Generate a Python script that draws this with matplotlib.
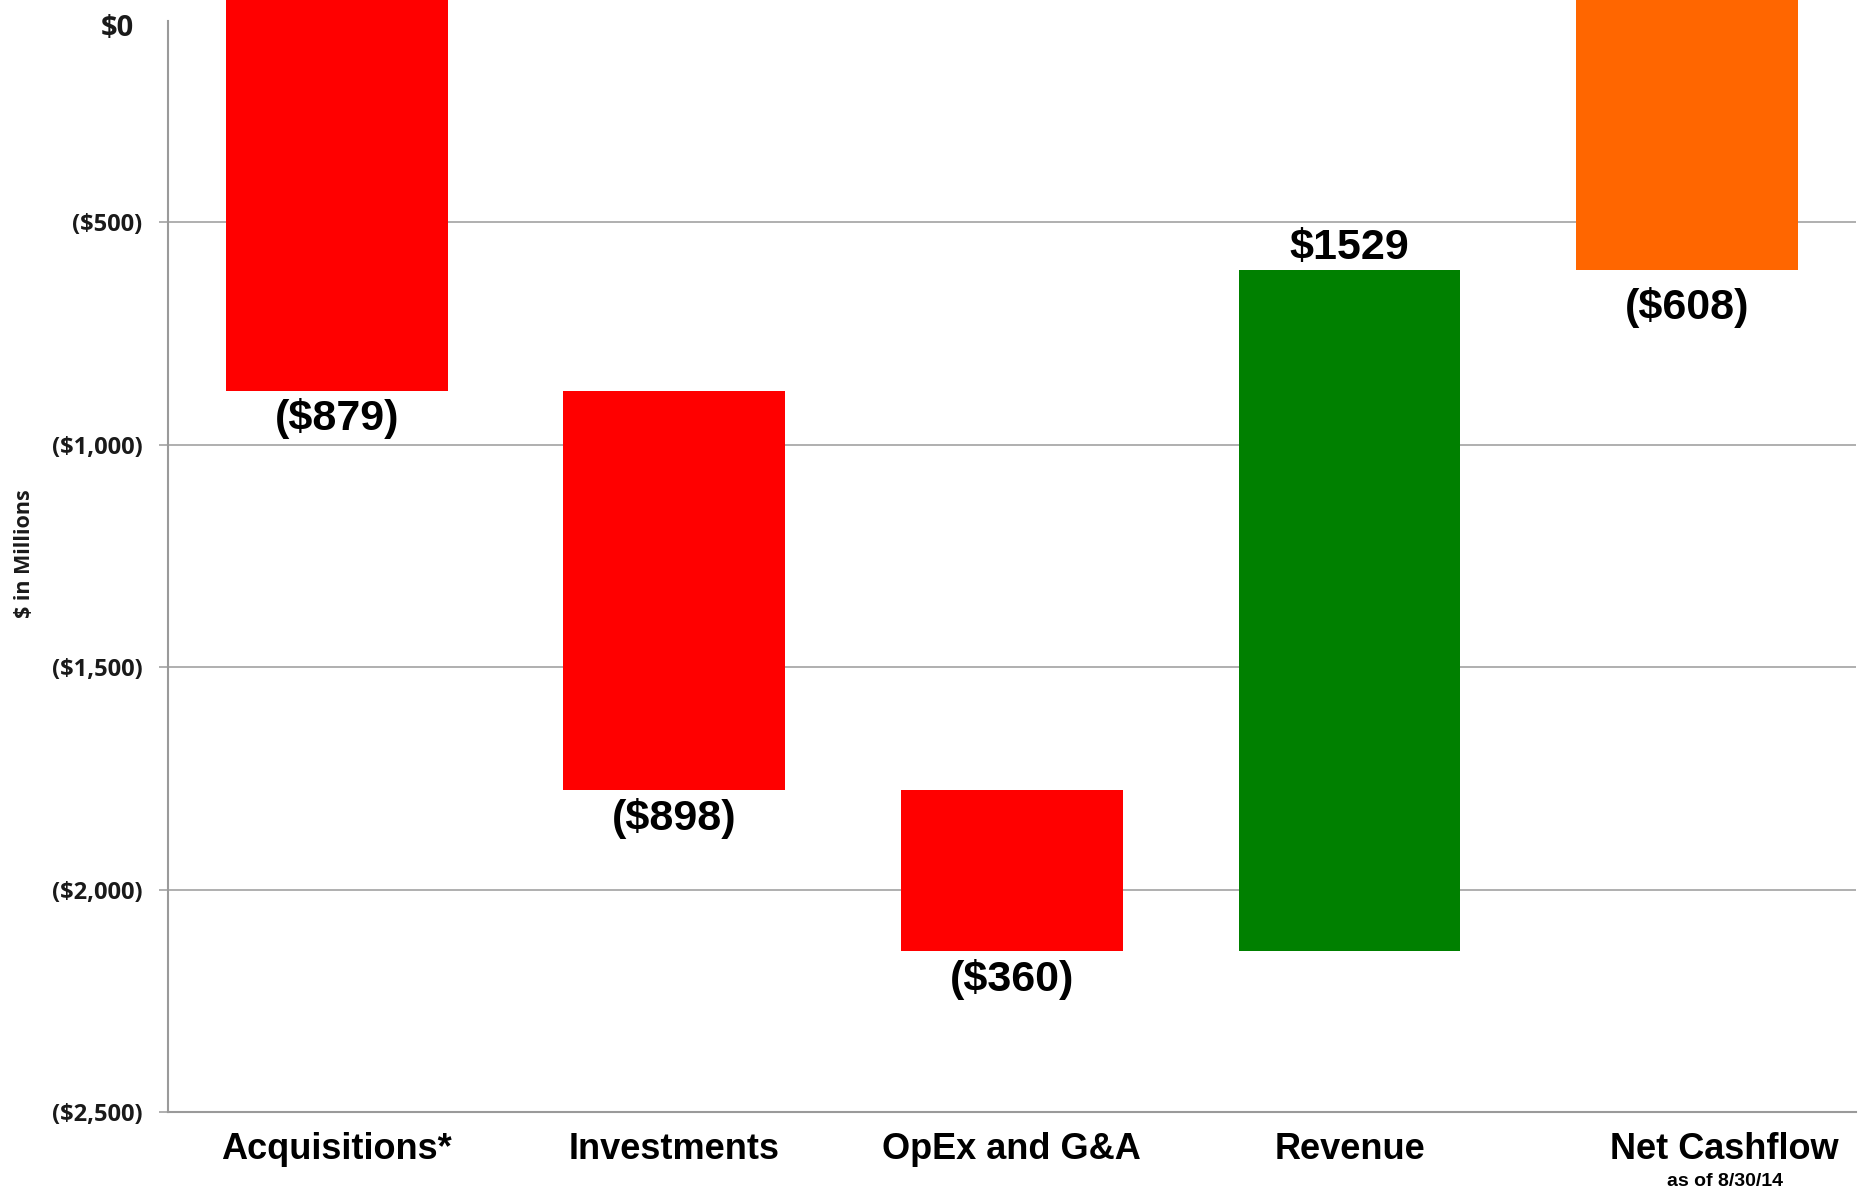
import numpy as np
import matplotlib
matplotlib.use('Agg')
import matplotlib.pyplot as plt
import matplotlib.transforms as mtransforms

# Data ($ in millions)
categories = ['Acquisitions*', 'Investments', 'OpEx and G&A', 'Revenue', 'Net Cashflow']
changes = [-879, -898, -360, 1529]
value_labels = ['($879)', '($898)', '($360)', '$1529', '($608)']
yticks = [0, -500, -1000, -1500, -2000, -2500]
ytick_labels = ['$0', '($500)', '($1,000)', '($1,500)', '($2,000)', '($2,500)']
subnote = 'as of 8/30/14'

# Styling
bar_colors = ['#FF0000', '#FF0000', '#FF0000', '#008000', '#FF6600']
label_offsets = [-19.5, -20, -21, 16.5, -27]   # points, relative to bar end
grid_gray = '#9a9a9a'

# Waterfall geometry
starts = np.concatenate([[0], np.cumsum(changes)[:-1]])
net = float(np.sum(changes))
bottoms = list(starts) + [0]
heights = list(changes) + [net]
x = np.arange(len(categories))

fig = plt.figure(figsize=(18.6, 11.92), dpi=100)
ax = fig.add_axes([0.0903, 0.0671, 0.9075, 0.9329])

ax.bar(x, heights, bottom=bottoms, width=0.657, color=bar_colors, zorder=2)

ax.set_xlim(-0.5, 4.5)
ax.set_ylim(-2500, 0)

# Grid and spines
ax.set_yticks(yticks)
ax.set_yticklabels(ytick_labels, fontfamily='Open Sans', fontweight='bold', fontsize=17,
                   color='#1a1a1a')
ax.yaxis.grid(True, color=grid_gray, linewidth=1.1, zorder=0)
ax.tick_params(axis='y', length=6.5, width=1.1, color=grid_gray, pad=12)
ax.set_xticks([])
for s in ['top', 'right']:
    ax.spines[s].set_visible(False)
ax.spines['left'].set_color(grid_gray)
ax.spines['left'].set_linewidth(1.5)
ax.spines['left'].set_bounds(-2500, -47)
ax.spines['bottom'].set_color(grid_gray)
ax.spines['bottom'].set_linewidth(1.5)

# top gridline / tick are cut off in the original
ax.yaxis.get_gridlines()[0].set_visible(False)
ax.yaxis.get_major_ticks()[0].tick1line.set_visible(False)

# "$0" label sits lower-left and larger in the original
zero_lbl = ax.get_yticklabels()[0]
zero_lbl.set_fontsize(21)
zero_lbl.set_transform(zero_lbl.get_transform() +
                       mtransforms.ScaledTranslation(-8 / 100, -25 / 100, fig.dpi_scale_trans))

ax.set_ylabel('$ in Millions', fontfamily='Open Sans', fontweight='bold', fontsize=15.5,
              color='#1a1a1a')
ax.yaxis.set_label_coords(-0.079, 0.502)

# Value labels
for i, lbl in enumerate(value_labels):
    end = bottoms[i] + heights[i]
    ax.annotate(lbl, xy=(x[i], end), xytext=(0, label_offsets[i]),
                textcoords='offset points', ha='center', va='center',
                fontfamily='Liberation Sans', fontweight='bold', fontsize=31,
                color='black', zorder=3)

# Category labels
for i, cat in enumerate(categories):
    dx = 27 if i == len(categories) - 1 else 0
    ax.annotate(cat, xy=(x[i], 0), xycoords=('data', 'axes fraction'),
                xytext=(dx, -27), textcoords='offset points', ha='center', va='center',
                fontfamily='Liberation Sans', fontweight='bold', fontsize=26,
                color='black', annotation_clip=False)
ax.annotate(subnote, xy=(x[-1], 0), xycoords=('data', 'axes fraction'),
            xytext=(27, -50), textcoords='offset points', ha='center', va='center',
            fontfamily='Liberation Sans', fontweight='bold', fontsize=14,
            color='black', annotation_clip=False)

fig.savefig('out.png', dpi=100, facecolor='white')
